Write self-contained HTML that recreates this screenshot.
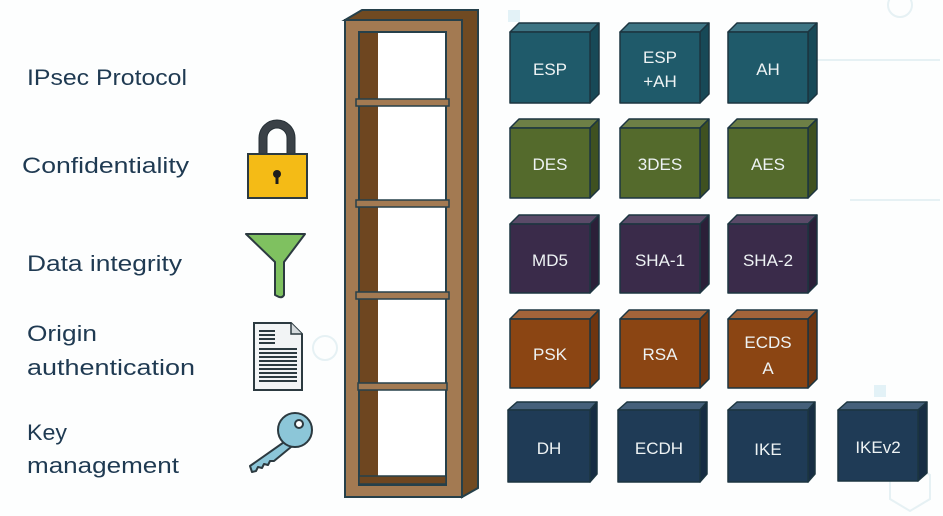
<!DOCTYPE html>
<html><head><meta charset="utf-8"><style>
html,body{margin:0;padding:0;background:#fff;}
svg{display:block;}
text{font-family:"Liberation Sans",sans-serif;}
</style></head><body>
<svg width="943" height="516" viewBox="0 0 943 516" xmlns="http://www.w3.org/2000/svg">
<rect width="943" height="516" fill="#fdfefe"/>
<!-- faint background circuitry -->
<g stroke="#e6f1f4" stroke-width="2" fill="none">
<circle cx="325" cy="348" r="12"/>
<circle cx="900" cy="5" r="12"/>
<path d="M890 475 l20 -12 l20 12 v24 l-20 12 l-20 -12z"/>
<path d="M850 200 h90 M760 60 h180"/>
</g>
<rect x="874" y="385" width="12" height="12" fill="#e3f2f7"/>
<rect x="508" y="10" width="12" height="12" fill="#e3f2f7"/>

<!-- labels -->
<g fill="#1f3a52" font-size="22">
<text x="27" y="85" textLength="160" lengthAdjust="spacingAndGlyphs">IPsec Protocol</text>
<text x="22" y="173" textLength="167" lengthAdjust="spacingAndGlyphs">Confidentiality</text>
<text x="27" y="271" textLength="155" lengthAdjust="spacingAndGlyphs">Data integrity</text>
<text x="27" y="341" textLength="70" lengthAdjust="spacingAndGlyphs">Origin</text>
<text x="27" y="375" textLength="168" lengthAdjust="spacingAndGlyphs">authentication</text>
<text x="27" y="440" textLength="40" lengthAdjust="spacingAndGlyphs">Key</text>
<text x="27" y="473" textLength="152" lengthAdjust="spacingAndGlyphs">management</text>
</g>

<!-- lock -->
<path d="M259 155 v-17 a18 18 0 0 1 36 0 v17 h-8 v-17 a10 10 0 0 0 -20 0 v17z" fill="#3a4147" stroke="#263036" stroke-width="1"/>
<rect x="248" y="154" width="59" height="44" fill="#f4bb16" stroke="#2c3a40" stroke-width="2"/>
<circle cx="277" cy="174" r="4" fill="#1c1c1c"/>
<rect x="275.5" y="174" width="3" height="10" fill="#1c1c1c"/>

<!-- funnel -->
<path d="M246 234 h59 l-21 28 v33 q-2 4 -7 1 l-2 -1 v-33z" fill="#7fc160" stroke="#2c3a40" stroke-width="2" stroke-linejoin="round"/>

<!-- document -->
<path d="M254 323 h37 l11 11 v56 h-48z" fill="#f2f4f5" stroke="#2c3a40" stroke-width="2"/>
<path d="M291 323 v11 h11" fill="#d5dadd" stroke="#2c3a40" stroke-width="1.5"/>
<g fill="#2c3a40">
<rect x="259" y="330" width="16" height="2"/><rect x="259" y="334" width="16" height="2"/><rect x="259" y="338" width="16" height="2"/><rect x="259" y="342" width="16" height="2"/>
<rect x="259" y="348" width="38" height="2"/><rect x="259" y="352" width="38" height="2"/><rect x="259" y="356" width="38" height="2"/><rect x="259" y="360" width="38" height="2"/><rect x="259" y="364" width="38" height="2"/><rect x="259" y="368" width="38" height="2"/><rect x="259" y="372" width="38" height="2"/><rect x="259" y="376" width="38" height="2"/><rect x="259" y="380" width="38" height="2"/>
</g>

<!-- key -->
<g stroke="#2c3a40" stroke-width="2" fill="#8cc6d8" stroke-linejoin="round">
<path d="M287 440 l-37 26 l2 6 l4 -1 l2 -4 l4 1 l2 -4 l4 1 l2 -4 l4 0 l17 -14z"/>
<circle cx="295" cy="430" r="17"/>
</g>
<circle cx="299" cy="424" r="4" fill="#fff" stroke="#2c3a40" stroke-width="2"/>

<!-- shelf -->
<polygon points="345,20 362,10 478,10 478,488 462,497 462,20" fill="#704a22" stroke="#26404a" stroke-width="2"/>
<rect x="345" y="20" width="117" height="477" fill="#a37a52" stroke="#26404a" stroke-width="2"/>
<rect x="359" y="32" width="87" height="453" fill="#6e4620" stroke="#26404a" stroke-width="2"/>
<rect x="378" y="33" width="67" height="451" fill="#ffffff"/>
<g fill="#a37a52" stroke="#26404a" stroke-width="1.5">
<rect x="356" y="99" width="93" height="7"/>
<rect x="356" y="200" width="93" height="7"/>
<rect x="356" y="292" width="93" height="7"/>
<rect x="358" y="383" width="89" height="7"/>
</g>
<rect x="359" y="476" width="87" height="8" fill="#6e4620" stroke="#26404a" stroke-width="1.5"/>

<!-- cubes -->
<defs>
<g id="cube">
</g>
</defs>
<g font-size="17" fill="#eef3f4" text-anchor="middle" stroke="#1c3540" stroke-width="1.5" stroke-linejoin="round">
<!-- function-like repeated groups -->
<!-- Row1 teal -->
<g>
<polygon points="510,32 519,23 599,23 590,32" fill="#3e7584"/><polygon points="590,32 599,23 599,94 590,103" fill="#174957"/><rect x="510" y="32" width="80" height="71" fill="#1f5a6a"/>
<polygon points="620,32 629,23 709,23 700,32" fill="#3e7584"/><polygon points="700,32 709,23 709,94 700,103" fill="#174957"/><rect x="620" y="32" width="80" height="71" fill="#1f5a6a"/>
<polygon points="728,32 737,23 817,23 808,32" fill="#3e7584"/><polygon points="808,32 817,23 817,94 808,103" fill="#174957"/><rect x="728" y="32" width="80" height="71" fill="#1f5a6a"/>
</g>
<g>
<polygon points="510,128 519,119 599,119 590,128" fill="#6d7f46"/><polygon points="590,128 599,119 599,189 590,198" fill="#3f5120"/><rect x="510" y="128" width="80" height="70" fill="#546a2c"/>
<polygon points="620,128 629,119 709,119 700,128" fill="#6d7f46"/><polygon points="700,128 709,119 709,189 700,198" fill="#3f5120"/><rect x="620" y="128" width="80" height="70" fill="#546a2c"/>
<polygon points="728,128 737,119 817,119 808,128" fill="#6d7f46"/><polygon points="808,128 817,119 817,189 808,198" fill="#3f5120"/><rect x="728" y="128" width="80" height="70" fill="#546a2c"/>
</g>
<g>
<polygon points="510,224 519,215 599,215 590,224" fill="#5a4a68"/><polygon points="590,224 599,215 599,284 590,293" fill="#2b1f38"/><rect x="510" y="224" width="80" height="69" fill="#3a2b4a"/>
<polygon points="620,224 629,215 709,215 700,224" fill="#5a4a68"/><polygon points="700,224 709,215 709,284 700,293" fill="#2b1f38"/><rect x="620" y="224" width="80" height="69" fill="#3a2b4a"/>
<polygon points="728,224 737,215 817,215 808,224" fill="#5a4a68"/><polygon points="808,224 817,215 817,284 808,293" fill="#2b1f38"/><rect x="728" y="224" width="80" height="69" fill="#3a2b4a"/>
</g>
<g>
<polygon points="510,319 519,310 599,310 590,319" fill="#a2643a"/><polygon points="590,319 599,310 599,379 590,388" fill="#6e3510"/><rect x="510" y="319" width="80" height="69" fill="#8b4513"/>
<polygon points="620,319 629,310 709,310 700,319" fill="#a2643a"/><polygon points="700,319 709,310 709,379 700,388" fill="#6e3510"/><rect x="620" y="319" width="80" height="69" fill="#8b4513"/>
<polygon points="728,319 737,310 817,310 808,319" fill="#a2643a"/><polygon points="808,319 817,310 817,379 808,388" fill="#6e3510"/><rect x="728" y="319" width="80" height="69" fill="#8b4513"/>
</g>
<g>
<polygon points="508,410 517,402 597,402 590,410" fill="#45607a"/><polygon points="590,410 597,402 597,474 590,482" fill="#172d43"/><rect x="508" y="410" width="82" height="72" fill="#1f3b56"/>
<polygon points="618,410 627,402 707,402 700,410" fill="#45607a"/><polygon points="700,410 707,402 707,474 700,482" fill="#172d43"/><rect x="618" y="410" width="82" height="72" fill="#1f3b56"/>
<polygon points="728,410 737,402 815,402 808,410" fill="#45607a"/><polygon points="808,410 815,402 815,474 808,482" fill="#172d43"/><rect x="728" y="410" width="80" height="72" fill="#1f3b56"/>
<polygon points="838,410 847,402 927,402 918,410" fill="#45607a"/><polygon points="918,410 927,402 927,473 918,481" fill="#172d43"/><rect x="838" y="410" width="80" height="71" fill="#1f3b56"/>
</g>
</g>
<g font-size="17" fill="#eef3f4" text-anchor="middle">
<text x="550" y="75">ESP</text>
<text x="660" y="63">ESP</text><text x="660" y="87">+AH</text>
<text x="768" y="75">AH</text>
<text x="550" y="170">DES</text><text x="660" y="170">3DES</text><text x="768" y="170">AES</text>
<text x="550" y="266">MD5</text><text x="660" y="266">SHA-1</text><text x="768" y="266">SHA-2</text>
<text x="550" y="360">PSK</text><text x="660" y="360">RSA</text>
<text x="768" y="348">ECDS</text><text x="768" y="374">A</text>
<text x="549" y="454">DH</text><text x="659" y="454">ECDH</text><text x="768" y="455">IKE</text><text x="878" y="453">IKEv2</text>
</g>
</svg>
</body></html>
